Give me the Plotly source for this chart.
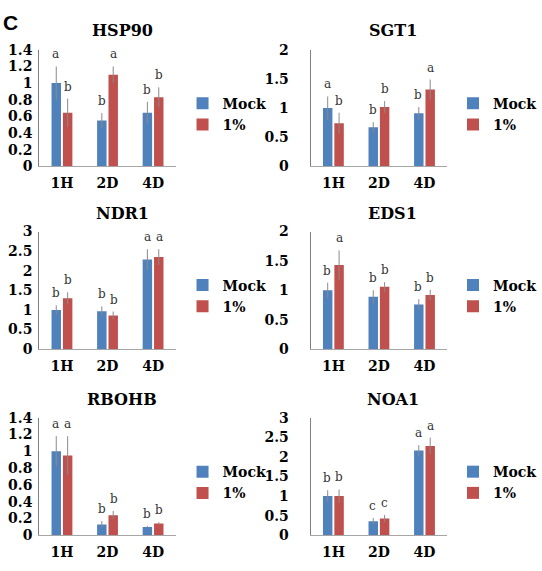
import plotly.graph_objects as go

categories = ["1H", "2D", "4D"]
genes = ["HSP90", "SGT1", "NDR1", "EDS1", "RBOHB", "NOA1"]

mock_vals = {
    "HSP90": [1.00, 0.55, 0.645],
    "SGT1": [1.00, 0.67, 0.91],
    "NDR1": [1.00, 0.97, 2.29],
    "EDS1": [1.00, 0.89, 0.76],
    "RBOHB": [1.00, 0.13, 0.10],
    "NOA1": [1.00, 0.36, 2.16],
}
mock_err = {
    "HSP90": [0.20, 0.09, 0.13],
    "SGT1": [0.20, 0.09, 0.11],
    "NDR1": [0.12, 0.12, 0.26],
    "EDS1": [0.13, 0.11, 0.09],
    "RBOHB": [0.18, 0.04, 0.01],
    "NOA1": [0.15, 0.08, 0.14],
}
treat_vals = {
    "HSP90": [0.645, 1.10, 0.83],
    "SGT1": [0.74, 1.02, 1.32],
    "NDR1": [1.30, 0.86, 2.35],
    "EDS1": [1.43, 1.06, 0.92],
    "RBOHB": [0.95, 0.24, 0.14],
    "NOA1": [1.00, 0.43, 2.28],
}
treat_err = {
    "HSP90": [0.17, 0.10, 0.12],
    "SGT1": [0.18, 0.10, 0.17],
    "NDR1": [0.15, 0.10, 0.20],
    "EDS1": [0.25, 0.08, 0.09],
    "RBOHB": [0.23, 0.05, 0.015],
    "NOA1": [0.17, 0.09, 0.21],
}
mock_letters = {
    "HSP90": ["a", "b", "b"],
    "SGT1": ["a", "b", "b"],
    "NDR1": ["b", "b", "a"],
    "EDS1": ["b", "b", "b"],
    "RBOHB": ["a", "b", "b"],
    "NOA1": ["b", "c", "a"],
}
treat_letters = {
    "HSP90": ["b", "a", "b"],
    "SGT1": ["b", "b", "a"],
    "NDR1": ["b", "b", "a"],
    "EDS1": ["a", "b", "b"],
    "RBOHB": ["a", "b", "b"],
    "NOA1": ["b", "c", "a"],
}
y_max = {"HSP90": 1.4, "SGT1": 2, "NDR1": 3, "EDS1": 2, "RBOHB": 1.4, "NOA1": 3}
y_dtick = {"HSP90": 0.2, "SGT1": 0.5, "NDR1": 0.5, "EDS1": 0.5, "RBOHB": 0.2, "NOA1": 0.5}
series_names = ["Mock", "1%"]

W, H = 542, 571
BLUE = "#4f81bd"
RED = "#c0504d"
SERIF = "DejaVu Serif"

def px(x):
    return x / W

def py(y):
    return 1 - y / H

col_x = [(41, 184), (325, 468)]
row_y = [(43, 163), (230, 351), (421.5, 542.5)]
title_x = [128, 411]
title_y = [23, 211, 403]
legend_x = [191, 474]
legend_y = [82, 269, 461]
ytick_standoff = [3, 18]

fig = go.Figure()
annotations = []
layout_extra = {}

for i, g in enumerate(genes):
    r, c = divmod(i, 2)
    idx = "" if i == 0 else str(i + 1)
    xa, ya = "x" + idx, "y" + idx
    leg = "legend" if i == 0 else "legend" + str(i + 1)
    for name, vals, errs, color in [
        (series_names[0], mock_vals[g], mock_err[g], BLUE),
        (series_names[1], treat_vals[g], treat_err[g], RED),
    ]:
        fig.add_trace(go.Bar(
            x=categories, y=vals, name=name, marker=dict(color=color, line=dict(width=0)),
            error_y=dict(type="data", array=errs, visible=True, thickness=1, width=0, color="#8a8a8a"),
            xaxis=xa, yaxis=ya, legend=leg, showlegend=True,
        ))
    x0, x1 = col_x[c]
    y0, y1 = row_y[r]
    layout_extra["xaxis" + idx] = dict(
        domain=[px(x0), px(x1)], anchor=ya, type="category",
        showline=True, linecolor="#a6a6a6", linewidth=1, ticks="",
        tickfont=dict(family=SERIF, size=14, color="black", weight="bold"),
        showgrid=False, zeroline=False, ticklabelstandoff=4, fixedrange=True,
    )
    layout_extra["yaxis" + idx] = dict(
        domain=[py(y1), py(y0)], anchor=xa, range=[0, y_max[g]], dtick=y_dtick[g],
        showline=True, linecolor="#7f7f7f", linewidth=1, ticks="",
        tickfont=dict(family=SERIF, size=14, color="black", weight="bold"),
        showgrid=False, zeroline=False, ticklabelstandoff=ytick_standoff[c], fixedrange=True,
    )
    layout_extra[leg] = dict(
        x=px(legend_x[c]), y=py(legend_y[r]), xanchor="left", yanchor="top",
        font=dict(family=SERIF, size=14, color="black", weight="bold"),
        bgcolor="rgba(0,0,0,0)", tracegroupgap=0, itemwidth=30,
        traceorder="normal",
    )
    annotations.append(dict(
        text=g, xref="paper", yref="paper", x=px(title_x[c]), y=py(title_y[r]),
        xanchor="center", yanchor="middle", showarrow=False,
        font=dict(family=SERIF, size=16, color="black", weight="bold"),
    ))
    for k, cat in enumerate(categories):
        for letters, vals, errs, shift in [
            (mock_letters[g], mock_vals[g], mock_err[g], -6),
            (treat_letters[g], treat_vals[g], treat_err[g], 6),
        ]:
            annotations.append(dict(
                text=letters[k], xref=xa, yref=ya, x=cat, y=vals[k] + errs[k],
                xshift=shift, yshift=3, xanchor="center", yanchor="bottom", showarrow=False,
                font=dict(family=SERIF, size=12, color="#333333"),
            ))

annotations.append(dict(
    text="<b>C</b>", xref="paper", yref="paper", x=px(1), y=py(1),
    xanchor="left", yanchor="top", showarrow=False,
    font=dict(family="Liberation Sans", size=21, color="black"),
))

fig.update_layout(
    width=W, height=H, margin=dict(l=0, r=0, t=0, b=0),
    paper_bgcolor="white", plot_bgcolor="white",
    barmode="group", bargap=0.5, bargroupgap=0.17,
    annotations=annotations, showlegend=True,
    **layout_extra,
)

fig.write_html("out.html")
